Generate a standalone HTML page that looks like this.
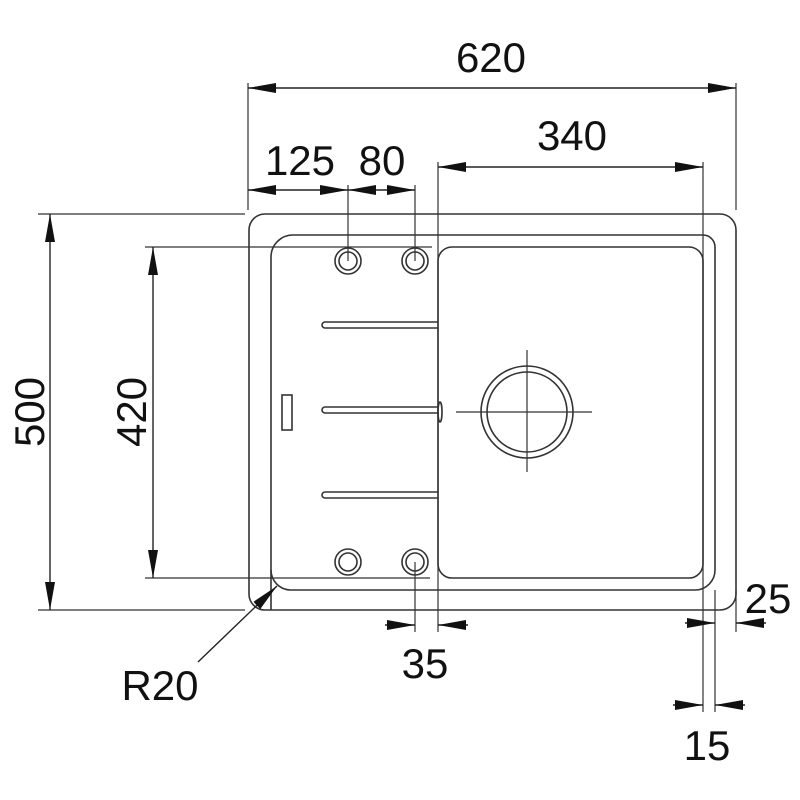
<!DOCTYPE html>
<html><head><style>html,body{margin:0;padding:0;background:#fff}svg{display:block}</style></head><body>
<svg width="800" height="800" viewBox="0 0 800 800" xmlns="http://www.w3.org/2000/svg">
<defs>
<marker id="a" viewBox="0 0 28 10" refX="28" refY="5" markerWidth="28" markerHeight="10" markerUnits="userSpaceOnUse" orient="auto-start-reverse"><path d="M0,0 L28,5 L0,10 Z" fill="#111"/></marker>
</defs>
<g fill="none" stroke="#333" stroke-width="1.6">
<!-- sink outline -->
<rect x="249" y="214" width="487" height="396" rx="16"/>
<path d="M271,610 V257 a22,22 0 0 1 22,-22 H703 a12,12 0 0 1 12,12 V570 a20,20 0 0 1 -20,20 H438"/>
<path d="M438,590 H290 a20,20 0 0 1 -19,-20"/>
<rect x="438" y="247" width="265" height="331" rx="14"/>
<!-- holes -->
<circle cx="348" cy="261" r="13"/><circle cx="348" cy="261" r="9"/>
<circle cx="415" cy="261" r="13"/><circle cx="415" cy="261" r="9"/>
<circle cx="348" cy="562" r="13"/><circle cx="348" cy="562" r="9"/>
<circle cx="415" cy="562" r="13"/><circle cx="415" cy="562" r="9"/>
<!-- grooves -->
<path d="M438,322 H325 a3,3 0 0 0 0,6 H438"/>
<path d="M438,407 H325 a3,3 0 0 0 0,6 H438"/>
<path d="M438,492 H325 a3,3 0 0 0 0,6 H438"/>
<rect x="282" y="395" width="10" height="35"/>
<ellipse cx="440" cy="412" rx="2" ry="10"/>
<!-- drain -->
<circle cx="527" cy="412" r="46"/><circle cx="527" cy="412" r="40"/>
</g>
<g stroke="#333" stroke-width="1.2" fill="none">
<path d="M456,412 H592 M527,350 V472"/>
<!-- extension lines -->
<path d="M248,83 V210 M736,83 V210"/>
<path d="M348,185 V261 M415,185 V261 M438,162 V632 M703,162 V712 M715,590 V712 M736,590 V632"/>
<path d="M415,562 V632"/>
<path d="M38,214 H245 M38,610 H245 M145,247 H432 M145,578 H430"/>
</g>
<g stroke="#222" stroke-width="1.4" fill="none">
<line x1="248" y1="88" x2="736" y2="88" marker-start="url(#a)" marker-end="url(#a)"/>
<line x1="438" y1="167" x2="703" y2="167" marker-start="url(#a)" marker-end="url(#a)"/>
<line x1="248" y1="190" x2="348" y2="190" marker-start="url(#a)" marker-end="url(#a)"/>
<line x1="348" y1="190" x2="415" y2="190" marker-start="url(#a)" marker-end="url(#a)"/>
<line x1="50" y1="214" x2="50" y2="610" marker-start="url(#a)" marker-end="url(#a)"/>
<line x1="153" y1="247" x2="153" y2="578" marker-start="url(#a)" marker-end="url(#a)"/>
<line x1="385" y1="625" x2="415" y2="625" marker-end="url(#a)"/>
<line x1="468" y1="625" x2="438" y2="625" marker-end="url(#a)"/>
<line x1="685" y1="623" x2="715" y2="623" marker-end="url(#a)"/>
<line x1="766" y1="623" x2="736" y2="623" marker-end="url(#a)"/>
<line x1="673" y1="705" x2="703" y2="705" marker-end="url(#a)"/>
<line x1="745" y1="705" x2="715" y2="705" marker-end="url(#a)"/>
<line x1="198" y1="662" x2="277" y2="586" marker-end="url(#a)"/>
</g>
<g font-family="Liberation Sans, sans-serif" font-size="42" fill="#111" text-anchor="middle">
<text x="491" y="72">620</text>
<text x="572" y="150">340</text>
<text x="300" y="175">125</text>
<text x="382" y="175">80</text>
<text x="425" y="678">35</text>
<text x="768" y="613">25</text>
<text x="707" y="760">15</text>
<text x="160" y="700">R20</text>
<text transform="translate(44,412) rotate(-90)">500</text>
<text transform="translate(146,412) rotate(-90)">420</text>
</g>
</svg>
</body></html>
